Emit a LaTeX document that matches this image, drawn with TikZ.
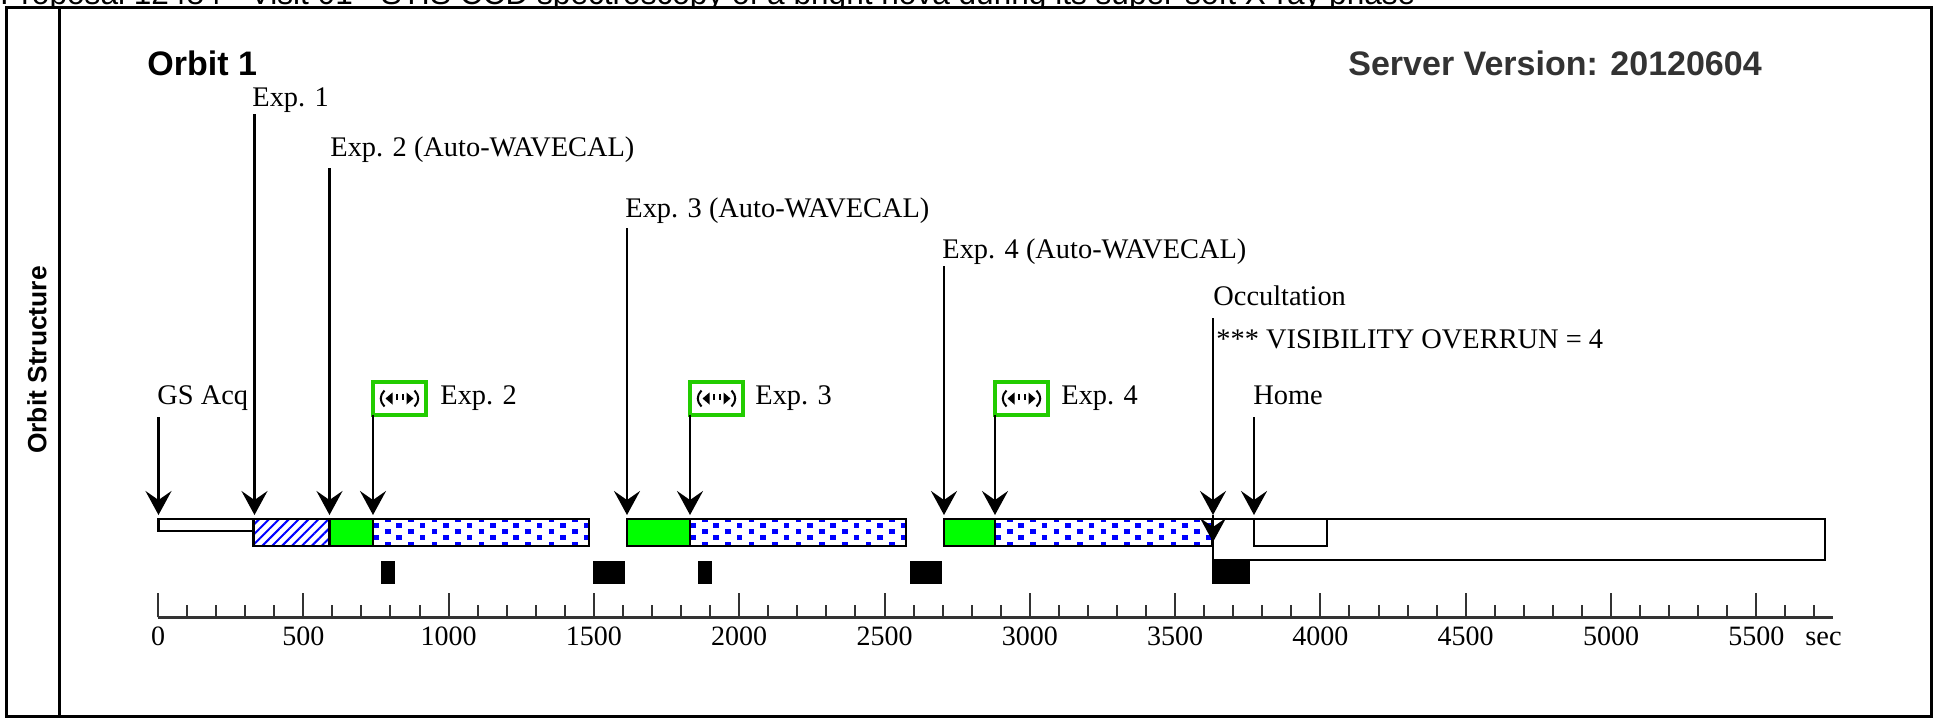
\documentclass[tikz,border=0pt]{standalone}
\usepackage{fontspec}
\setmainfont{Liberation Serif}
\setsansfont{Liberation Sans}
\usetikzlibrary{arrows.meta,patterns.meta}

\definecolor{icongreen}{RGB}{34,204,0}
\definecolor{axisgray}{RGB}{51,51,51}

\tikzset{
  lab/.style={font=\fontsize{14.2}{16}\selectfont, anchor=base west, inner sep=0pt},
  ticklab/.style={font=\fontsize{14}{16}\selectfont, anchor=base, inner sep=0pt},
  head/.style={font=\sffamily\bfseries\fontsize{17}{20}\selectfont, anchor=base west, inner sep=0pt},
  arr/.style={line width=1.2pt, -{Stealth[length=12pt,width=13pt,inset=4.5pt]}},
  bar/.style={draw, line width=1.2pt},
  iconbox/.style={draw=icongreen, line width=2pt, minimum width=26.5pt, minimum height=16.5pt, inner sep=0pt, outer sep=0pt},
  frame/.style={line width=1.5pt},
  achse/.style={draw=axisgray, line width=1pt}
}

%Symbol im gruenen Kasten
\newcommand\expglyph[1]{%
  \begin{scope}[shift={(#1.center)}]
    \fill (-14,0) -- (-7,-6) -- (-7,6) -- cycle;
    \fill (14,0) -- (7,-6) -- (7,6) -- cycle;
    \fill (-4,-5) rectangle (-2,1);
    \fill (2,-5) rectangle (4,1);
    \draw[line width=1pt] (-15,-8) .. controls (-20,-3) and (-20,3) .. (-15,8);
    \draw[line width=1pt] (15,-8) .. controls (20,-3) and (20,3) .. (15,8);
  \end{scope}}

\begin{document}
\begin{tikzpicture}[x=0.5pt, y=-0.5pt]
\useasboundingbox (0,0) rectangle (1939,719);

		%Kopfzeile (oben abgeschnitten)
		\node[font=\sffamily\fontsize{15.8}{18}\selectfont, anchor=base west, inner sep=0pt] (title) at (0,4) {Proposal 12484 - Visit 01 - STIS CCD spectroscopy of a bright nova during its super-soft X-ray phase};

		%Rahmen
		\fill[white] (6,7) rectangle (1931,716);
		\draw[frame] (6,7) rectangle (1931,716);
		\draw[frame] (59,7) -- (59,716);
		\node[rotate=90, font=\sffamily\bfseries\fontsize{13.2}{15}\selectfont] (struct) at (37,360) {Orbit Structure};

		%Ueberschriften
		\node[head] (orbit) at (147,75) {Orbit 1};
		\node[head, text=axisgray] (server) at (1348,75) {Server Version: 20120604};

		%Beschriftungen
		\node[lab] (l1) at (252,106) {Exp. 1};
		\node[lab] (l2a) at (330,156) {Exp. 2 (Auto-WAVECAL)};
		\node[lab] (l3a) at (625,217) {Exp. 3 (Auto-WAVECAL)};
		\node[lab] (l4a) at (942,258) {Exp. 4 (Auto-WAVECAL)};
		\node[lab] (locc) at (1213,305) {Occultation};
		\node[lab] (lvis) at (1216,348) {*** VISIBILITY OVERRUN = 4};
		\node[lab] (lgs) at (157,404) {GS Acq};
		\node[lab] (l2) at (440,404) {Exp. 2};
		\node[lab] (l3) at (755,404) {Exp. 3};
		\node[lab] (l4) at (1061,404) {Exp. 4};
		\node[lab] (lhome) at (1253,404) {Home};

		%gruene Kaesten
		\node[iconbox] (i2) at (399.5,398.5) {};
		\node[iconbox] (i3) at (716.5,398.5) {};
		\node[iconbox] (i4) at (1021.5,398.5) {};
		\expglyph{i2}
		\expglyph{i3}
		\expglyph{i4}

		%Balken
		\draw[bar, fill=white] (158.5,519) rectangle (253.6,531);
		\draw[bar, pattern={Lines[angle=45,distance=3.5pt,line width=1pt]}, pattern color=blue] (253.6,519) rectangle (329.5,546);
		\draw[bar, fill=green] (329.5,519) rectangle (373,546);
		\draw[bar, fill=green] (627,519) rectangle (690,546);
		\draw[bar, fill=green] (944,519) rectangle (995,546);
		\foreach \a/\b in {373/589, 690/906, 995/1212.5} {
			\begin{scope}
				\clip (\a,519) rectangle (\b,546);
				\foreach \r in {0,...,4}
					\foreach \k in {0,...,9}
						\fill[blue] ({\a+12*(1-mod(\r,2))+23.4*\k},{517+6.15*\r}) rectangle ++(5.5,5);
			\end{scope}
			\draw[bar] (\a,519) rectangle (\b,546);
		}
		\draw[bar] (1213,519) rectangle (1825,560);
		\draw[bar] (1254,519) rectangle (1327,546);

		%schwarze Bloecke
		\foreach \a/\b in {381/395, 593/625, 698/712, 910/941.5, 1212/1249.5}
			\fill (\a,561) rectangle (\b,584);

		%Pfeile
		\coordinate (gs top) at (158.5,417);   \coordinate (gs tip) at (158.5,515);
		\coordinate (e1 top) at (254.5,114);   \coordinate (e1 tip) at (254.5,515);
		\coordinate (e2a top) at (329.5,168);  \coordinate (e2a tip) at (329.5,515);
		\coordinate (e3a top) at (627,228);    \coordinate (e3a tip) at (627,515);
		\coordinate (e4a top) at (944,266);    \coordinate (e4a tip) at (944,515);
		\coordinate (occ top) at (1213,318);   \coordinate (occ tip) at (1213,515);
		\coordinate (home top) at (1254,417);  \coordinate (home tip) at (1254,515);
		\coordinate (vis tip) at (1213,542);
		\coordinate (e2 tip) at (373,515);
		\coordinate (e3 tip) at (690,515);
		\coordinate (e4 tip) at (995,515);
		\foreach \n in {gs, e1, e2a, e3a, e4a, occ, home}
			\draw[arr] (\n\space top) -- (\n\space tip);
		\draw[arr] (occ tip) -- (vis tip);
		\draw[arr] (i2.south west) -- (e2 tip);
		\draw[arr] (i3.south west) -- (e3 tip);
		\draw[arr] (i4.south west) -- (e4 tip);

		%Zeitachse
		\draw[achse, line width=1.5pt] (158,617.3) -- (1833,617.3);
		\foreach \t in {0,100,...,5700}
			\draw[achse] ({158+0.2906*\t},617.3) -- ++(0,-12);
		\foreach \t in {0,500,...,5500} {
			\draw[achse] ({158+0.2906*\t},617.3) -- ++(0,-24);
			\node[ticklab] at ({158+0.2906*\t},645) {\t};
		}
		\node[lab] (sec) at (1805,645) {sec};
\end{tikzpicture}
\end{document}
